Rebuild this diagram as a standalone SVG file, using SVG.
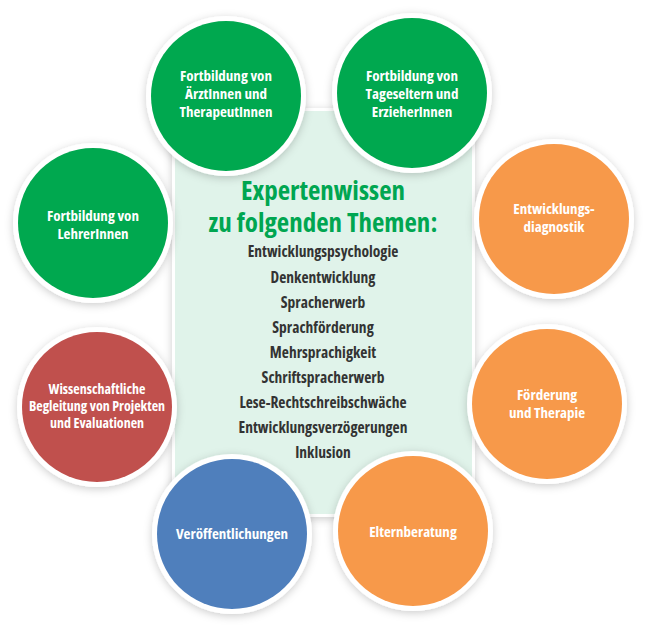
<svg xmlns="http://www.w3.org/2000/svg" width="646" height="628" viewBox="0 0 646 628">
<defs>
<filter id="sh" x="-20%" y="-20%" width="140%" height="140%">
<feDropShadow dx="0" dy="2" stdDeviation="4" flood-color="#000" flood-opacity="0.2"/>
</filter>
<style>
.ring{fill:#fff;filter:url(#sh)}
.lbl{font-family:"Open Sans","Liberation Sans",sans-serif;font-stretch:condensed;font-weight:700;font-size:15px;fill:#fff;text-anchor:middle}
.sm{font-size:14px}
.list{font-family:"Open Sans","Liberation Sans",sans-serif;font-stretch:condensed;font-weight:700;font-size:15.5px;fill:#333;text-anchor:middle}
.title{font-family:"Open Sans","Liberation Sans",sans-serif;font-stretch:condensed;font-weight:700;font-size:27px;fill:#00a651;text-anchor:middle}
.g{fill:#00a84f}.o{fill:#f7994a}.r{fill:#c0504d}.b{fill:#4f7fbc}
</style>
</defs>
<rect width="646" height="628" fill="#fff"/>
<g id="connectors"></g>
<g id="center">
<rect x="172" y="108" width="303" height="409" fill="#fff" filter="url(#sh)"/>
<rect x="175" y="111" width="297" height="403" fill="#e0f3ea"/>
<text class="title" x="323" y="200">Expertenwissen</text>
<text class="title" x="323" y="232">zu folgenden Themen:</text>
<text class="list" x="323" y="257">Entwicklungspsychologie</text>
<text class="list" x="323" y="283">Denkentwicklung</text>
<text class="list" x="323" y="308">Spracherwerb</text>
<text class="list" x="323" y="333">Sprachförderung</text>
<text class="list" x="323" y="358">Mehrsprachigkeit</text>
<text class="list" x="323" y="383">Schriftspracherwerb</text>
<text class="list" x="323" y="408">Lese-Rechtschreibschwäche</text>
<text class="list" x="323" y="433">Entwicklungsverzögerungen</text>
<text class="list" x="323" y="458">Inklusion</text>
</g>
<g id="n1"><circle class="ring" cx="226" cy="96" r="80"/><circle class="g" cx="226" cy="96" r="75"/>
<text class="lbl" x="226" y="81">Fortbildung von</text><text class="lbl" x="226" y="99">ÄrztInnen und</text><text class="lbl" x="226" y="117">TherapeutInnen</text></g>
<g id="n2"><circle class="ring" cx="412" cy="93" r="80"/><circle class="g" cx="412" cy="93" r="75"/>
<text class="lbl" x="412" y="81">Fortbildung von</text><text class="lbl" x="412" y="99">Tageseltern und</text><text class="lbl" x="412" y="117">ErzieherInnen</text></g>
<g id="n3"><circle class="ring" cx="93" cy="223" r="80"/><circle class="g" cx="93" cy="223" r="75"/>
<text class="lbl" x="93" y="221">Fortbildung von</text><text class="lbl" x="93" y="239">LehrerInnen</text></g>
<g id="n4"><circle class="ring" cx="97" cy="407" r="80"/><circle class="r" cx="97" cy="407" r="75"/>
<text class="lbl sm" x="97" y="394">Wissenschaftliche</text><text class="lbl sm" x="97" y="411">Begleitung von Projekten</text><text class="lbl sm" x="97" y="428">und Evaluationen</text></g>
<g id="n5"><circle class="ring" cx="554" cy="219" r="80"/><circle class="o" cx="554" cy="219" r="75"/>
<text class="lbl" x="554" y="214">Entwicklungs-</text><text class="lbl" x="554" y="232">diagnostik</text></g>
<g id="n6"><circle class="ring" cx="547" cy="404" r="80"/><circle class="o" cx="547" cy="404" r="75"/>
<text class="lbl" x="547" y="400">Förderung</text><text class="lbl" x="547" y="418">und Therapie</text></g>
<g id="n7"><circle class="ring" cx="232" cy="534" r="80"/><circle class="b" cx="232" cy="534" r="75"/>
<text class="lbl" x="232" y="539">Veröffentlichungen</text></g>
<g id="n8"><circle class="ring" cx="413" cy="531" r="80"/><circle class="o" cx="413" cy="531" r="75"/>
<text class="lbl" x="413" y="537">Elternberatung</text></g>
</svg>
